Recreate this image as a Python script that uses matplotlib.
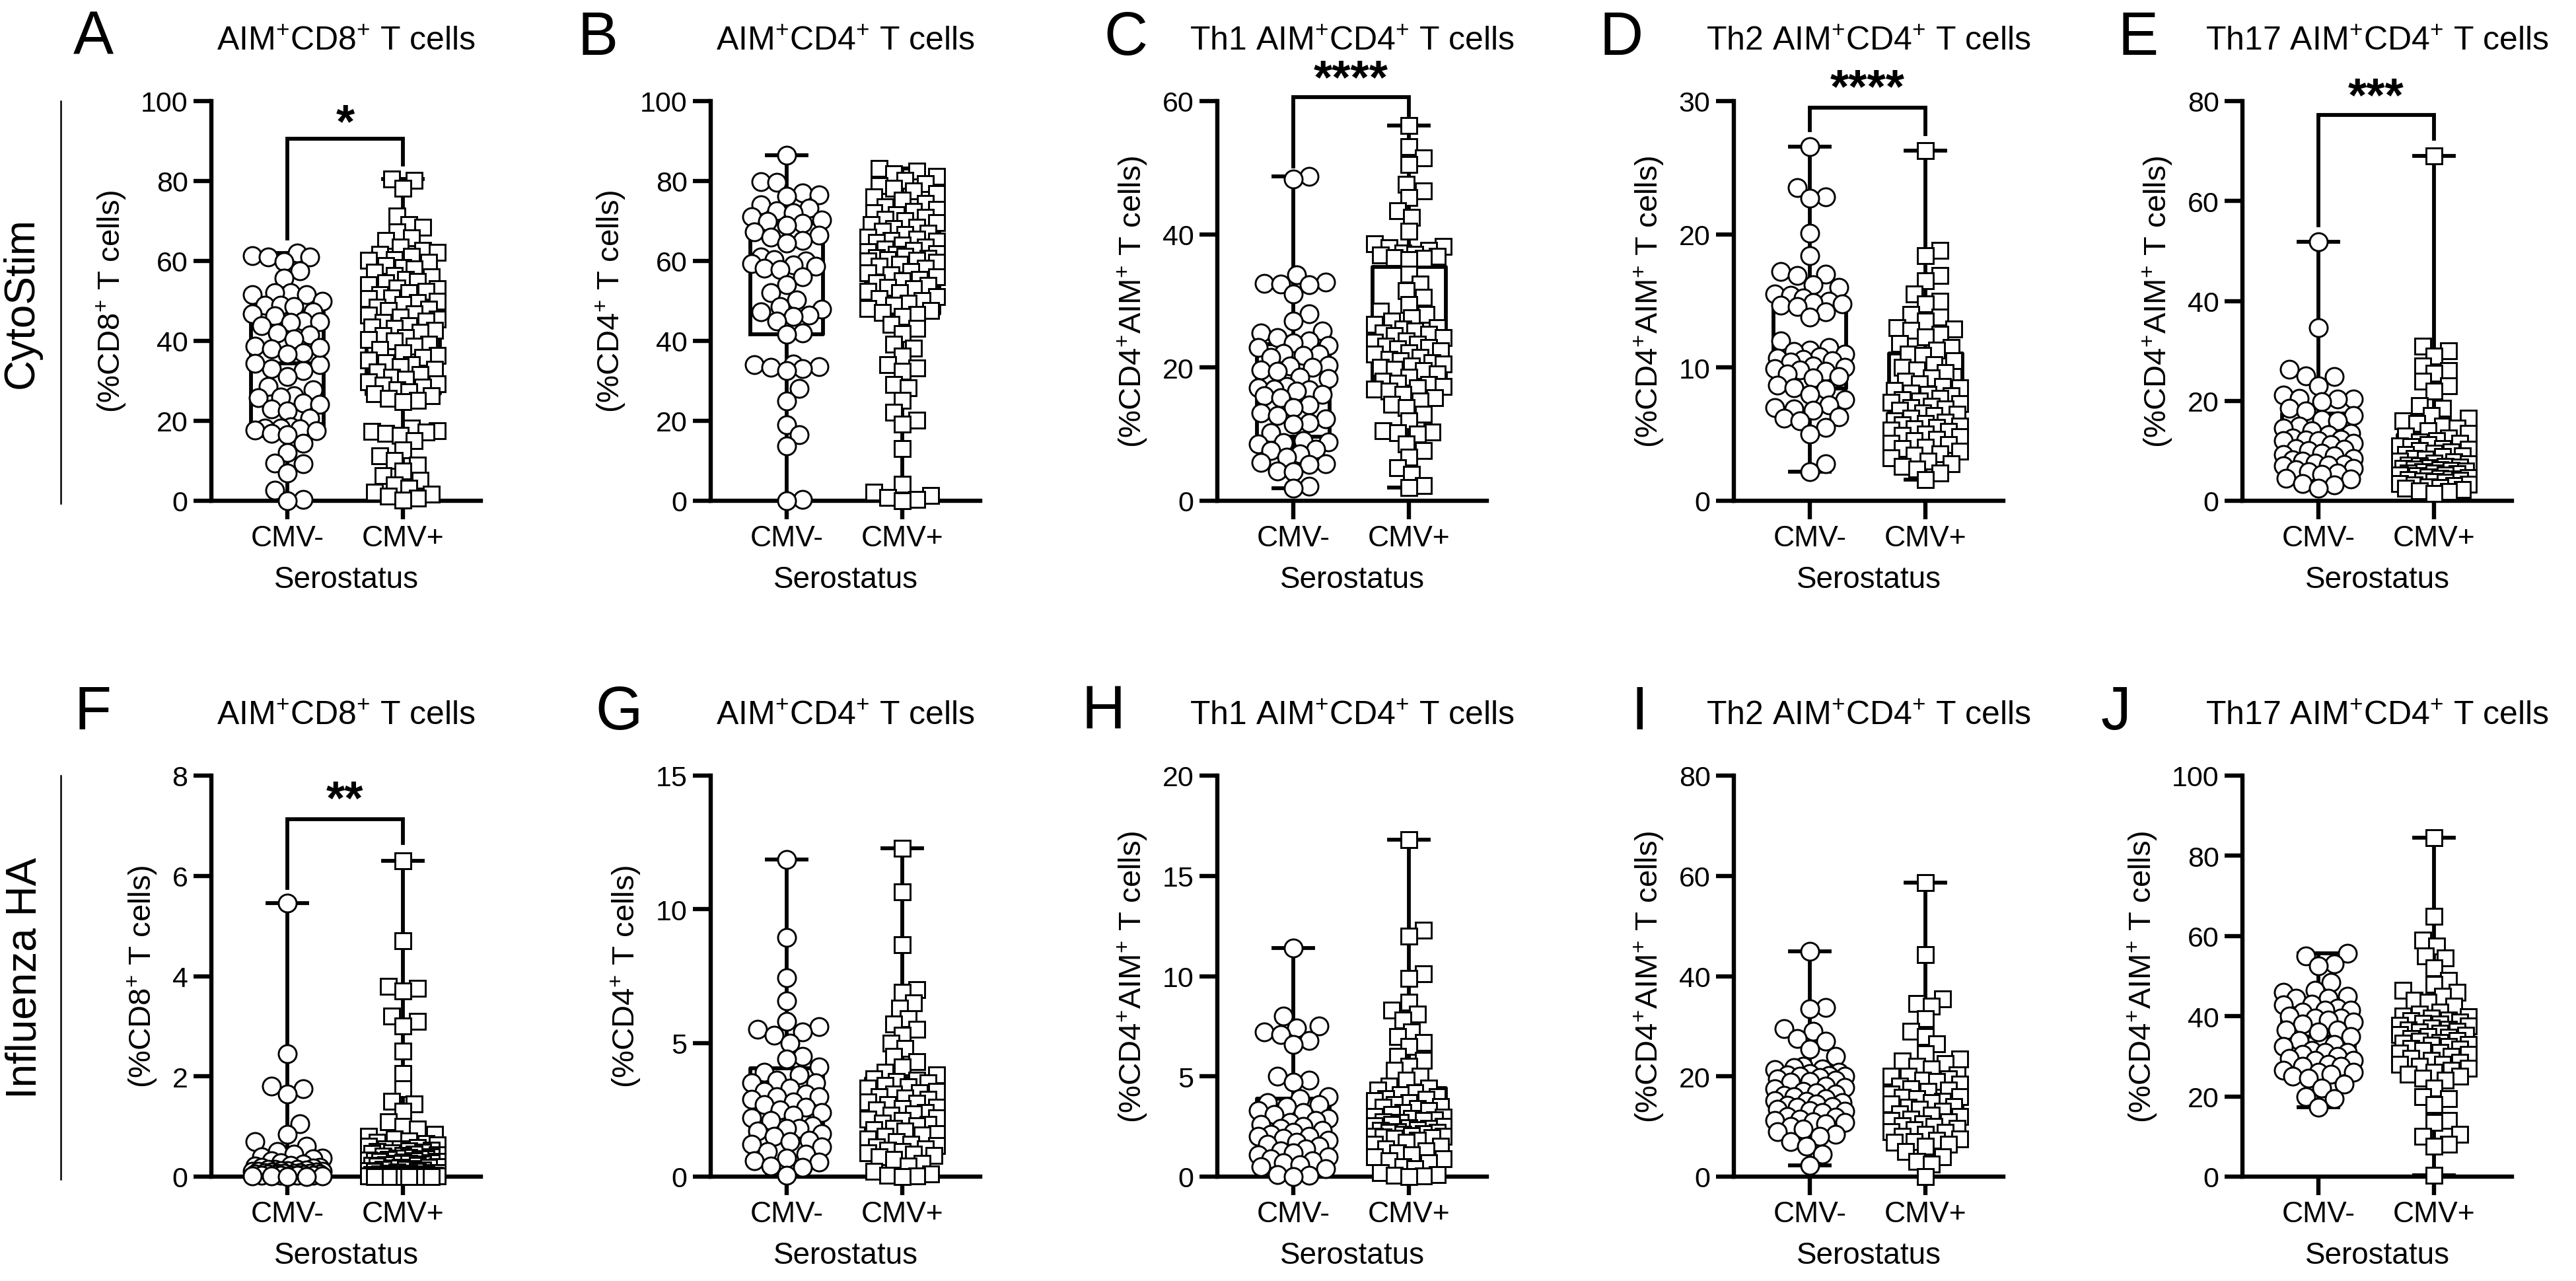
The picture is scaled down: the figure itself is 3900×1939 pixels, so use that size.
import numpy as np
import matplotlib
matplotlib.use("Agg")
import matplotlib.pyplot as plt
from matplotlib.lines import Line2D
from matplotlib.transforms import offset_copy

plt.rcParams['font.family'] = ['Liberation Sans', 'DejaVu Sans']
plt.rcParams['mathtext.fontset'] = 'custom'
plt.rcParams['mathtext.rm'] = 'Liberation Sans'
plt.rcParams['mathtext.it'] = 'Liberation Sans:italic'
plt.rcParams['mathtext.bf'] = 'Liberation Sans:bold'

# ---------------- data ----------------
groups = ["CMV-", "CMV+"]
xlabel = "Serostatus"

A_neg = [62, 61.4, 61, 61, 59.8, 57.6, 55.7, 52, 52, 51.6, 51.5, 50, 49, 49, 48.6, 47.3, 46.7, 46.2, 45, 44.8,
         44.6, 43.8, 34, 33, 42, 41.5, 40.5, 32.5, 38.7, 38.3, 38, 37, 36.7, 34.3, 31, 28.6, 27.7, 26.3, 26, 25.8,
         24.4, 24.1, 23, 22.5, 20.6, 18.5, 18.2, 18.2, 18, 17.7, 17.5, 16.8, 16.6, 14.4, 12, 9.5, 9.3, 7, 2.6, 0.3, 0]
A_pos = [80.5, 80.1, 78.2, 71.3, 69.1, 68.4, 67.2, 65.8, 65.1, 63.4, 62.6, 62.1, 61.7, 61.2, 60.4, 60.1, 59.6, 58.9,
         58.3, 58.0, 57.2, 56.4, 56.1, 55.3, 54.9, 54.6, 54.1, 53.3, 53.0, 52.4, 52.1, 51.6, 50.8, 50.5, 49.9, 49.6,
         49.1, 48.4, 47.9, 47.6, 46.8, 46.5, 45.9, 45.4, 44.9, 44.6, 43.8, 43.5, 43.1, 42.6, 42.2, 41.4, 40.9, 40.3,
         40.0, 39.2, 38.6, 37.8, 37.1, 36.4, 35.9, 35.2, 34.6, 34.0, 33.5, 32.9, 32.2, 31.6, 30.9, 30.4, 29.8, 29.3,
         28.9, 28.4, 27.8, 27.3, 26.7, 26.2, 25.6, 25.1, 24.8, 18.1, 17.6, 17.4, 17.2, 16.9, 16.4, 15.1, 12.8, 11.2,
         10.1, 8.9, 7.4, 6.2, 5.1, 3.9, 3.1, 2.2, 1.6, 1.1, 0.6, 0.2]

B_neg = [86.5, 79.9, 79.6, 77.1, 76.5, 76.2, 74.1, 73.2, 72.6, 72.0, 71.1, 70.3, 69.9, 69.4, 69.0, 67.2, 66.4, 65.9,
         65.1, 64.4, 61.0, 60.3, 60.0, 59.4, 59.0, 58.6, 58.1, 57.8, 56.0, 54.1, 52.0, 50.2, 48.6, 48.0, 47.2, 46.5,
         46.1, 44.9, 42.0, 41.6, 34.2, 34.0, 33.6, 33.4, 33.1, 32.6, 28.1, 25.0, 19.0, 16.5, 13.8, 0.3, 0.0]
B_pos = [83.1, 82.4, 81.9, 81.2, 80.1, 79.4, 78.9, 78.2, 77.6, 76.8, 76.1, 75.2, 74.3, 73.6, 72.9, 72.4, 72.1, 71.6,
         70.9, 70.4, 70.1, 69.6, 69.1, 68.5, 68.1, 67.4, 67.0, 66.6, 65.9, 65.5, 65.2, 64.9, 64.6, 63.9, 63.4, 62.9,
         62.6, 62.3, 61.9, 61.6, 61.2, 60.9, 60.6, 60.4, 60.2, 60.0, 59.7, 59.1, 58.6, 58.1, 57.4, 57.0, 56.6, 56.1,
         55.3, 55.0, 54.6, 53.9, 53.4, 53.1, 52.4, 52.0, 51.1, 50.6, 50.1, 49.4, 48.9, 48.1, 47.6, 47.1, 46.6, 46.1,
         44.2, 43.1, 41.9, 39.2, 38.1, 36.2, 34.1, 33.2, 32.4, 29.1, 28.2, 25.1, 22.2, 20.1, 19.2, 13.1, 4.2, 2.1,
         1.3, 0.8, 0.4, 0.0]

C_neg = [48.7, 48.3, 33.9, 32.8, 32.6, 32.5, 32.4, 31.0, 28.1, 27.0, 25.5, 25.2, 24.5, 24.0, 23.7, 23.3, 23.0, 22.1,
         22.0, 21.8, 21.5, 20.3, 20.2, 20.0, 19.6, 19.4, 18.5, 18.3, 17.2, 17.0, 16.8, 16.7, 16.5, 16.0, 15.8, 15.5,
         14.4, 14.0, 13.2, 12.8, 12.3, 11.7, 11.5, 10.2, 9.0, 8.8, 8.7, 8.5, 7.7, 7.5, 7.0, 6.5, 5.8, 5.6, 5.5, 4.5,
         4.4, 2.2, 1.9]
C_pos = [56.3, 53.2, 51.5, 50.5, 47.5, 46.5, 45.5, 43.5, 42.5, 40.5, 38.6, 38.2, 38.0, 37.6, 37.2, 37.0, 36.9, 36.7,
         36.5, 36.4, 36.2, 34.0, 32.5, 31.5, 30.5, 29.5, 28.5, 28.0, 27.5, 27.0, 26.5, 26.0, 25.8, 25.5, 25.2, 25.0,
         24.8, 24.5, 24.0, 23.8, 23.5, 23.2, 23.0, 22.8, 22.5, 22.2, 22.0, 21.5, 21.2, 21.0, 20.7, 20.5, 20.2, 20.0,
         19.7, 19.5, 19.0, 18.5, 18.0, 17.7, 17.5, 17.2, 17.0, 16.8, 16.5, 16.0, 15.5, 15.0, 14.5, 14.0, 13.0, 12.0,
         10.5, 10.3, 10.2, 10.0, 8.5, 7.5, 6.5, 5.0, 4.0, 2.3, 2.0]

D_neg = [26.6, 23.5, 22.8, 22.7, 20.1, 18.4, 17.2, 17.0, 16.9, 16.2, 16.0, 15.5, 15.4, 15.2, 15.0, 14.9, 14.8, 14.7,
         14.6, 14.2, 13.8, 12.0, 11.5, 11.3, 11.2, 11.0, 10.8, 10.7, 10.6, 10.5, 10.4, 10.1, 10.0, 9.9, 9.8, 9.7,
         9.5, 9.3, 9.2, 8.7, 8.5, 8.4, 8.0, 7.6, 7.2, 7.0, 6.9, 6.8, 6.3, 6.2, 6.0, 5.5, 5.0, 2.8, 2.2]
D_pos = [26.3, 18.8, 18.4, 16.9, 16.5, 15.5, 15.0, 14.8, 14.0, 13.8, 13.5, 13.0, 12.9, 12.8, 12.5, 12.3, 11.8, 11.5,
         11.3, 11.0, 10.9, 10.5, 10.2, 10.0, 9.8, 9.6, 9.2, 9.0, 8.8, 8.6, 8.5, 8.3, 8.1, 8.0, 7.9, 7.7, 7.6, 7.5,
         7.4, 7.3, 7.1, 7.0, 6.9, 6.8, 6.6, 6.5, 6.4, 6.2, 6.0, 5.9, 5.8, 5.7, 5.6, 5.5, 5.4, 5.3, 5.2, 5.0, 4.9,
         4.8, 4.6, 4.5, 4.3, 4.2, 4.0, 3.9, 3.7, 3.5, 3.4, 3.2, 3.0, 2.8, 2.6, 2.4, 2.1, 1.6]

E_neg = [51.9, 34.7, 26.3, 25.0, 24.8, 23.0, 21.2, 20.5, 20.4, 20.3, 19.8, 18.5, 18.0, 17.0, 16.2, 16.0, 15.0, 14.5,
         14.0, 13.5, 13.2, 12.5, 12.3, 12.2, 12.0, 12.0, 11.5, 11.3, 10.5, 10.3, 10.0, 9.5, 9.3, 9.0, 8.5, 8.2, 8.0,
         7.5, 7.3, 7.2, 7.0, 6.5, 6.2, 5.8, 5.5, 5.3, 4.5, 4.3, 3.5, 3.2, 2.5]
E_pos = [69.0, 31.0, 30.0, 29.0, 27.0, 26.0, 25.5, 24.0, 23.0, 22.0, 19.0, 18.5, 17.0, 16.5, 16.0, 15.5, 15.0, 14.5,
         14.0, 13.5, 13.0, 12.5, 12.0, 11.8, 11.5, 11.2, 11.0, 10.8, 10.5, 10.3, 10.0, 9.8, 9.5, 9.3, 9.0, 8.8, 8.5,
         8.3, 8.0, 7.8, 7.6, 7.4, 7.2, 7.0, 6.9, 6.8, 6.6, 6.5, 6.4, 6.2, 6.1, 6.0, 5.8, 5.6, 5.5, 5.4, 5.2, 5.1,
         5.0, 4.8, 4.6, 4.5, 4.4, 4.2, 4.1, 4.0, 3.8, 3.7, 3.5, 3.3, 3.2, 3.0, 2.8, 2.7, 2.5, 2.2, 2.0, 1.8, 1.5]

F_neg = [5.45, 2.45, 1.8, 1.75, 1.65, 1.05, 0.85, 0.7, 0.6, 0.5, 0.45, 0.4, 0.37, 0.35, 0.31, 0.28, 0.25, 0.22,
         0.21, 0.19, 0.18, 0.17, 0.15, 0.15, 0.14, 0.13, 0.12, 0.12, 0.11, 0.1, 0.1, 0.09, 0.09, 0.08, 0.08, 0.07,
         0.07, 0.06, 0.06, 0.05, 0.05, 0.05, 0.04, 0.04, 0.03, 0.03, 0.02, 0.02, 0.02, 0.01, 0.01, 0.01, 0.0, 0.0]
F_pos = [6.3, 4.7, 3.8, 3.75, 3.7, 3.2, 3.1, 3.0, 2.5, 2.05, 1.75, 1.5, 1.45, 1.3, 1.1, 1.0, 0.95, 0.85, 0.8, 0.75,
         0.71, 0.69, 0.66, 0.63, 0.6, 0.58, 0.56, 0.55, 0.53, 0.51, 0.5, 0.49, 0.47, 0.46, 0.45, 0.43, 0.42, 0.41,
         0.39, 0.38, 0.37, 0.36, 0.35, 0.34, 0.33, 0.32, 0.31, 0.3, 0.3, 0.29, 0.28, 0.27, 0.26, 0.25, 0.24, 0.23,
         0.22, 0.21, 0.2, 0.19, 0.18, 0.17, 0.16, 0.15, 0.14, 0.13, 0.12, 0.11, 0.1, 0.09, 0.08, 0.08, 0.07, 0.06,
         0.05, 0.05, 0.05, 0.04, 0.04, 0.04, 0.03, 0.03, 0.03, 0.03, 0.02, 0.02, 0.02, 0.02, 0.02, 0.01, 0.01,
         0.01, 0.01, 0.01, 0.0, 0.0, 0.0, 0.0, 0.0, 0.0]

G_neg = [11.86, 8.95, 7.43, 6.57, 5.8, 5.6, 5.5, 5.4, 5.3, 5.0, 4.5, 4.4, 4.1, 3.9, 3.8, 3.6, 3.5, 3.5, 3.3, 3.2,
         3.1, 3.0, 3.0, 2.9, 2.8, 2.7, 2.6, 2.5, 2.4, 2.3, 2.2, 2.1, 1.9, 1.8, 1.8, 1.7, 1.6, 1.5, 1.35, 1.3, 1.2,
         1.1, 0.95, 0.85, 0.7, 0.6, 0.55, 0.4, 0.35, 0.05]
G_pos = [12.27, 10.66, 8.67, 7.0, 6.9, 6.5, 6.3, 5.9, 5.7, 5.5, 5.3, 5.0, 4.8, 4.5, 4.3, 4.1, 3.9, 3.8, 3.65, 3.6,
         3.55, 3.5, 3.4, 3.35, 3.3, 3.2, 3.15, 3.1, 3.0, 2.95, 2.9, 2.8, 2.75, 2.7, 2.6, 2.55, 2.5, 2.4, 2.35, 2.3,
         2.2, 2.15, 2.1, 2.0, 1.95, 1.9, 1.8, 1.75, 1.7, 1.6, 1.55, 1.5, 1.4, 1.3, 1.2, 1.15, 1.1, 1.05, 1.0, 0.95,
         0.9, 0.85, 0.8, 0.75, 0.65, 0.5, 0.4, 0.2, 0.1, 0.05, 0.02, 0.0]

H_neg = [11.4, 8.0, 7.5, 7.4, 7.2, 7.1, 6.8, 6.6, 5.0, 4.8, 4.7, 4.0, 3.9, 3.7, 3.6, 3.5, 3.3, 3.2, 3.1, 2.9, 2.8,
         2.7, 2.6, 2.5, 2.4, 2.3, 2.2, 2.1, 2.0, 2.0, 1.9, 1.8, 1.7, 1.6, 1.5, 1.4, 1.3, 1.2, 1.1, 1.0, 0.9, 0.8,
         0.7, 0.6, 0.5, 0.4, 0.1, 0.05, 0.0]
H_pos = [16.8, 12.3, 12.0, 10.1, 9.9, 8.7, 8.3, 8.1, 7.8, 7.2, 7.0, 6.7, 6.5, 6.0, 5.8, 5.5, 5.3, 5.0, 4.8, 4.5,
         4.4, 4.3, 4.2, 4.1, 4.0, 3.9, 3.85, 3.8, 3.7, 3.6, 3.5, 3.45, 3.4, 3.3, 3.2, 3.1, 3.0, 2.95, 2.9, 2.85,
         2.8, 2.75, 2.7, 2.6, 2.55, 2.5, 2.45, 2.4, 2.35, 2.3, 2.25, 2.2, 2.2, 2.15, 2.1, 2.05, 2.0, 2.0, 1.98, 1.95,
         1.9, 1.8, 1.7, 1.6, 1.5, 1.4, 1.3, 1.2, 1.1, 1.0, 0.9, 0.8, 0.7, 0.5, 0.4, 0.2, 0.1, 0.05, 0.02, 0.0]

I_neg = [44.9, 33.8, 33.5, 29.5, 29.0, 27.5, 27.0, 25.5, 24.0, 22.0, 21.8, 21.5, 21.3, 20.8, 20.5, 20.3, 20.2, 20.0,
         20.0, 19.8, 19.5, 19.2, 19.0, 18.8, 18.0, 17.8, 17.5, 17.0, 16.8, 16.5, 16.2, 16.0, 15.5, 15.2, 15.0, 14.8,
         14.5, 14.2, 14.0, 13.8, 13.5, 13.2, 13.0, 12.8, 12.0, 11.8, 11.5, 11.2, 11.0, 10.8, 10.5, 10.0, 9.5, 9.0,
         8.5, 8.0, 7.0, 6.0, 4.5, 2.3]
I_pos = [58.6, 44.3, 35.5, 34.5, 34.0, 31.5, 29.0, 28.0, 26.5, 24.5, 23.5, 23.0, 22.5, 22.0, 21.5, 20.3, 20.0, 20.0,
         19.5, 19.2, 19.0, 18.5, 18.0, 17.5, 17.2, 17.0, 16.5, 16.0, 15.8, 15.5, 15.0, 14.7, 14.5, 14.0, 13.8, 13.5,
         13.0, 12.5, 12.2, 12.0, 11.5, 11.2, 11.0, 10.5, 10.2, 10.0, 9.6, 9.3, 9.0, 8.8, 8.5, 8.0, 7.5, 7.2, 7.0,
         6.8, 6.5, 6.0, 5.0, 4.0, 3.0, 2.5, 0.0]

J_neg = [55.7, 55.0, 53.0, 52.5, 48.5, 46.5, 46.0, 45.0, 44.5, 44.5, 43.0, 42.8, 42.0, 41.5, 41.5, 41.0, 40.0, 39.5,
         39.5, 39.0, 38.5, 38.0, 36.5, 36.5, 36.0, 35.0, 34.0, 33.0, 32.5, 31.5, 31.0, 31.0, 30.5, 30.0, 29.5, 29.0,
         29.0, 28.0, 27.5, 27.5, 26.5, 26.0, 26.0, 25.5, 25.0, 24.5, 23.0, 22.0, 20.0, 19.5, 17.3]
J_pos = [84.5, 64.9, 59.0, 57.5, 55.0, 54.5, 52.0, 49.0, 48.0, 46.5, 46.0, 45.0, 44.0, 43.5, 42.5, 41.0, 40.5, 40.0,
         39.8, 39.5, 39.0, 38.8, 38.5, 38.2, 38.0, 37.8, 37.5, 37.0, 36.8, 36.5, 36.2, 36.0, 35.8, 35.5, 35.2, 35.0,
         34.8, 34.5, 34.0, 33.8, 33.5, 33.2, 33.0, 32.8, 32.5, 32.0, 31.8, 31.5, 31.0, 30.8, 30.5, 30.0, 29.5, 29.0,
         28.5, 28.0, 28.0, 27.5, 27.0, 26.5, 26.0, 25.5, 25.0, 24.5, 24.0, 22.0, 20.0, 19.5, 18.0, 14.0, 13.5, 10.5,
         10.0, 8.0, 7.5, 0.3]

panel_letters = ["A", "B", "C", "D", "E", "F", "G", "H", "I", "J"]
titles = [r"AIM$^{+}$CD8$^{+}$ T cells", r"AIM$^{+}$CD4$^{+}$ T cells", r"Th1 AIM$^{+}$CD4$^{+}$ T cells",
          r"Th2 AIM$^{+}$CD4$^{+}$ T cells", r"Th17 AIM$^{+}$CD4$^{+}$ T cells"] * 2
ylabels = [r"(%CD8$^{+}$ T cells)", r"(%CD4$^{+}$ T cells)"] + [r"(%CD4$^{+}$AIM$^{+}$ T cells)"] * 3
ylabels = ylabels * 2
y_max = [100, 100, 60, 30, 80, 8, 15, 20, 80, 100]
y_step = [20, 20, 20, 10, 20, 2, 5, 5, 20, 20]
# significance: (left leg end, bracket top, right leg end, star text y, stars)
signif = [(65.6, 90.6, 84.1, 96.5, "*"), None, (50.2, 60.6, 57.9, 64.5, "****"),
          (27.8, 29.5, 27.5, 31.6, "****"), (55.2, 77.2, 72.4, 82.5, "***"),
          (5.76, 7.13, 6.65, 7.68, "**"), None, None, None, None]
row_labels = ["CytoStim", "Influenza HA"]
negs = [A_neg, B_neg, C_neg, D_neg, E_neg, F_neg, G_neg, H_neg, I_neg, J_neg]
poss = [A_pos, B_pos, C_pos, D_pos, E_pos, F_pos, G_pos, H_pos, I_pos, J_pos]

# ---------------- layout (pixels of the 3900x1940 canvas) ----------------
W, H, DPI = 3900, 1940, 100
axis_x = [320, 1076, 1843, 2625, 3395]
row_top = [154, 1175]
row_zero = [759, 1782]
AX_W = 408
XLIM = (-0.657, 1.674)
PX_PER_UNIT = AX_W / (XLIM[1] - XLIM[0])
letter_x = [[141, 905, 1704, 2455, 3237], [141, 937, 1671, 2482, 3203]]
letter_base = [83, 1104]
title_base = [76, 1097]
rowlab_pos = [(33, 459), (38, 1480)]
sep_x = 92

LW = 4.2
SP_LW = 4.6
MS_C, MS_S = 19.5, 17.5
MEW = 2.1
BOX_W = 0.634
CAP_W = 0.34

fig = plt.figure(figsize=(W / DPI, H / DPI), dpi=DPI)


def swarm(vals, ymax, h_px, d_px, frac, maxhalf_px):
    y = np.asarray(vals, float) / ymax * h_px
    order = np.argsort(y, kind="stable")
    step = d_px * 0.18
    n = int(maxhalf_px / step)
    cands = [0.0]
    for k in range(1, n + 1):
        cands += [k * step, -k * step]
    cands = np.array(cands)
    px, py = [], []
    offs = np.zeros(len(y))
    for i in order:
        c = 0.0
        if px:
            ax_ = np.array(px)
            ay_ = np.array(py)
            near = np.abs(ay_ - y[i]) < d_px
            if near.any():
                dx = cands[:, None] - ax_[near][None, :]
                dy = (y[i] - ay_[near])[None, :]
                dist = np.sqrt(dx ** 2 + dy ** 2).min(axis=1)
                ok = np.where(dist >= d_px * frac)[0]
                c = cands[ok[0]] if len(ok) else cands[np.argmax(dist)]
        offs[i] = c / PX_PER_UNIT
        px.append(c)
        py.append(y[i])
    return offs


for k in range(10):
    r, c = divmod(k, 5)
    h_px = row_zero[r] - row_top[r]
    ax = fig.add_axes([axis_x[c] / W, 1 - row_zero[r] / H, AX_W / W, h_px / H])
    ymax = y_max[k]
    ax.set_xlim(*XLIM)
    ax.set_ylim(0, ymax)
    neg, pos = negs[k], poss[k]
    ax.boxplot([neg, pos], positions=[0, 1], widths=BOX_W, whis=(0, 100), showfliers=False,
               capwidths=CAP_W, zorder=2,
               boxprops=dict(color="k", lw=LW), whiskerprops=dict(color="k", lw=LW),
               capprops=dict(color="k", lw=LW), medianprops=dict(color="k", lw=LW))
    for i, (vals, mk, ms, d) in enumerate([(neg, "o", MS_C, 27.0), (pos, "s", MS_S, 24.0)]):
        offs = swarm(vals, ymax, h_px, d, 0.9 if mk == "o" else 0.85, 56)
        ax.plot(i + offs, vals, ls="none", marker=mk, ms=ms, mfc="white", mec="k", mew=MEW,
                clip_on=False, zorder=3)
    ax.set_xticks([0, 1])
    ax.set_xticklabels(groups)
    ax.set_yticks(np.arange(0, ymax + 1e-9, y_step[k]))
    ax.set_yticklabels([f"{v:g}" for v in np.arange(0, ymax + 1e-9, y_step[k])])
    for s in ["top", "right"]:
        ax.spines[s].set_visible(False)
    for s in ["left", "bottom"]:
        ax.spines[s].set_linewidth(SP_LW)
    ax.tick_params(axis="y", direction="out", width=SP_LW, length=19.5, labelsize=31, pad=6)
    ax.tick_params(axis="x", direction="out", width=SP_LW, length=20, labelsize=32, pad=6)
    ax.set_ylabel(ylabels[k], fontsize=34, labelpad=14)
    ax.set_xlabel(xlabel, fontsize=33, labelpad=14)
    ax.set_facecolor("none")
    sg = signif[k]
    if sg is not None:
        l0, top, r0, sy, stars = sg
        ax.plot([0, 0, 1, 1], [l0, top, top, r0], color="k", lw=LW, clip_on=False,
                solid_joinstyle="miter", zorder=4)
        tr = offset_copy(ax.transData, fig=fig, y=-10, units="points")
        ax.text(0.5, sy, stars, ha="center", va="center", fontsize=52, fontweight="bold",
                transform=tr, clip_on=False)
    cx = (axis_x[c] + AX_W / 2) / W
    fig.text(cx, 1 - title_base[r] / H, titles[k], ha="center", va="baseline", fontsize=36)
    fig.text(letter_x[r][c] / W, 1 - letter_base[r] / H, panel_letters[k], ha="center",
             va="baseline", fontsize=66)

for r in range(2):
    x, y = rowlab_pos[r]
    fig.text(x / W, 1 - y / H, row_labels[r], rotation=90, ha="center", va="center", fontsize=46)
    fig.add_artist(Line2D([sep_x / W, sep_x / W], [1 - row_top[r] / H, 1 - (row_zero[r] + 4) / H],
                          color="k", lw=1.8))

fig.savefig("out.png", dpi=DPI, facecolor="white")
